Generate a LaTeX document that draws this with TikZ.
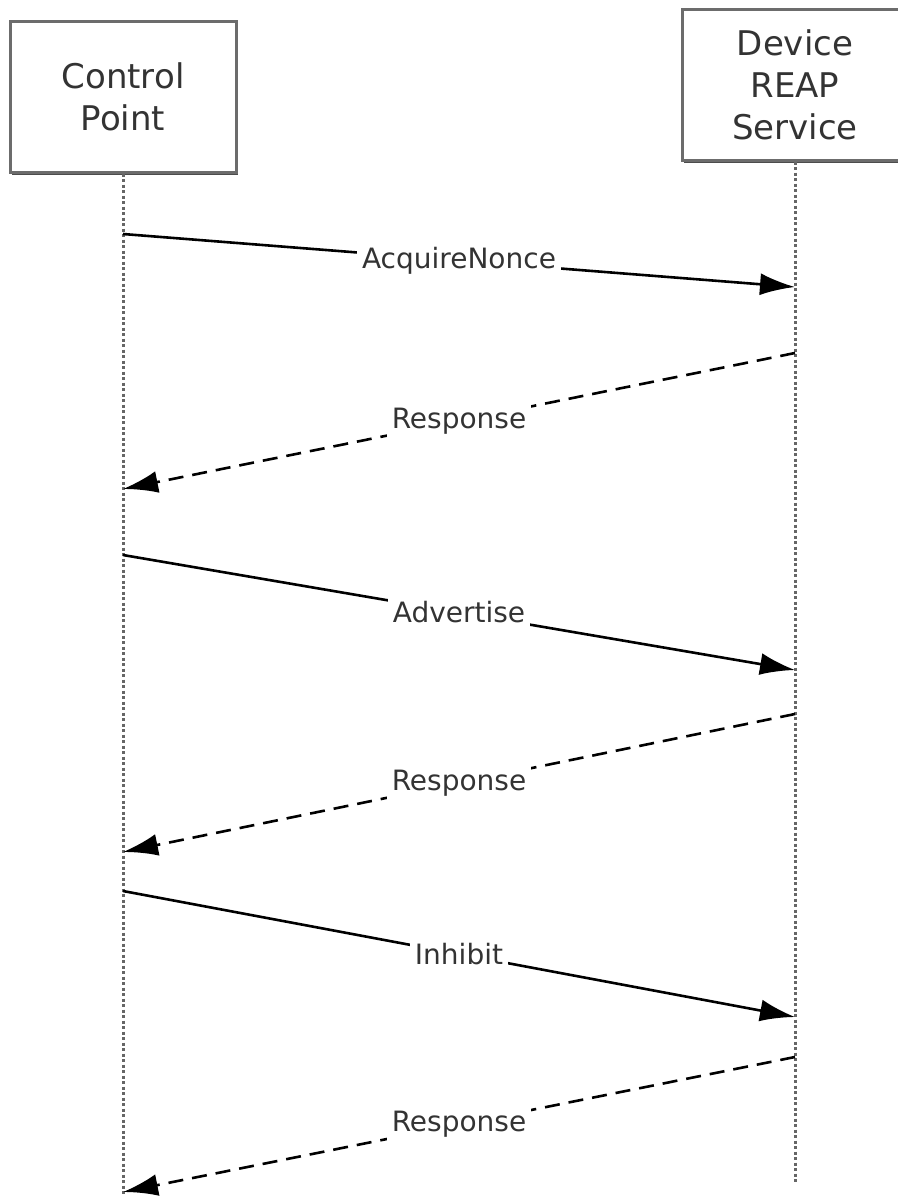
\documentclass[tikz,border=0pt]{standalone}
\usepackage{fontspec}
\setmainfont{DejaVu Sans}
\usetikzlibrary{arrows.meta,shadows}
\begin{document}
\begin{tikzpicture}[x=1pt, y=-1pt, >={Latex[length=35pt,width=22pt]},
	party/.style={draw=gray!85!black, line width=3pt, fill=white, minimum width=226pt, minimum height=150pt,
		align=center, text=black!80, font=\fontsize{34}{42}\selectfont,
		drop shadow={shadow xshift=1.5pt, shadow yshift=-3pt, fill=gray!60!black, opacity=1}},
	life/.style={gray!80!black, line width=3pt, dash pattern=on 3pt off 2.5pt},
	msg/.style={->, line width=2.6pt},
	reply/.style={->, line width=2.6pt, dash pattern=on 15pt off 9pt},
	lbl/.style={fill=white, inner sep=5pt, text=black!80, font=\fontsize{28}{30}\selectfont}]
	\useasboundingbox (0,0) rectangle (897,1199);

	% the two parties and their lifelines
	\node[party] (cp) at (123,97) {Control\\Point};
	\node[party] (dev) at (795,85) {Device\\REAP\\Service};
	\coordinate (cpend) at (123,1194);
	\coordinate (devend) at (795,1182);
	\draw[life] (cp.south) -- (cpend);
	\draw[life] (dev.south) -- (devend);

	% calls
	\foreach \n/\ya/\yb/\txt in {1/234/287/AcquireNonce, 2/555/670/Advertise, 3/891/1017/Inhibit}
		{
			\coordinate (req\n-s) at (123,\ya);
			\coordinate (req\n-e) at (795,\yb);
			\draw[msg] (req\n-s) -- node[lbl] (reqlbl\n) {\txt} (req\n-e);
		}

	% answers
	\foreach \n/\ya/\yb in {1/353/489, 2/714/852, 3/1057/1192}
		{
			\coordinate (rsp\n-s) at (795,\ya);
			\coordinate (rsp\n-e) at (123,\yb);
			\draw[reply] (rsp\n-s) -- node[lbl] (rsplbl\n) {Response} (rsp\n-e);
		}
\end{tikzpicture}
\end{document}
